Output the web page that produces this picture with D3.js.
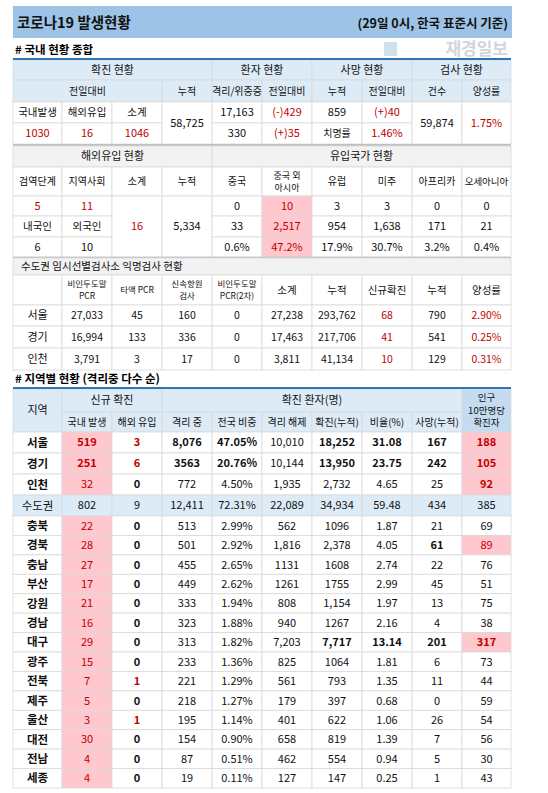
<!DOCTYPE html>
<html><head><meta charset="utf-8">
<script src="https://cdn.jsdelivr.net/npm/d3@7"></script>
<style>body{margin:0;background:#fff}svg{display:block}</style>
</head><body>
<script>
// ---- data ----
const title = "코로나19 발생현황";
const subtitle = "(29일 0시, 한국 표준시 기준)";
const sec1 = "# 국내 현황 종합";
const sec2 = "# 지역별 현황 (격리중 다수 순)";
const t1Groups = ["확진 현황","환자 현황","사망 현황","검사 현황"];
const t1Sub = ["전일대비","누적","격리/위중증","전일대비","누적","전일대비","건수","양성률"];
const t1Labels = ["국내발생","해외유입","소계"];
const t1New = ["1030","16","1046"];
const t1Cum = "58,725";
const t1Patients = ["17,163","(-)429","330","(+)35"];
const t1Deaths = ["859","(+)40","치명률","1.46%"];
const t1Tests = ["59,874","1.75%"];

const t2Groups = ["해외유입 현황","유입국가 현황"];
const t2Head = ["검역단계","지역사회","소계","누적","중국","중국 외\n아시아","유럽","미주","아프리카","오세아니아"];
const t2Stage = ["5","11"];
const t2Nation = ["내국인","외국인"];
const t2NationVals = ["6","10"];
const t2Sub = "16", t2Cum = "5,334";
const t2Today = ["0","10","3","3","0","0"];
const t2Total = ["33","2,517","954","1,638","171","21"];
const t2Pct = ["0.6%","47.2%","17.9%","30.7%","3.2%","0.4%"];

const t3Title = "수도권 임시선별검사소 익명검사 현황";
const t3Head = ["","비인두도말\nPCR","타액 PCR","신속항원\n검사","비인두도말\nPCR(2차)","소계","누적","신규확진","누적","양성률"];
const t3Rows = [
  ["서울","27,033","45","160","0","27,238","293,762","68","790","2.90%"],
  ["경기","16,994","133","336","0","17,463","217,706","41","541","0.25%"],
  ["인천","3,791","3","17","0","3,811","41,134","10","129","0.31%"]];

const regions = ["서울","경기","인천","수도권","충북","경북","충남","부산","강원","경남","대구","광주","전북","제주","울산","대전","전남","세종"];
const newLocal = [519,251,32,802,22,28,27,17,21,16,29,15,7,5,3,30,4,4];
const newImport = [3,6,0,9,0,0,0,0,0,0,0,0,1,0,1,0,0,0];
const isolating = ["8,076","3563","772","12,411","513","501","455","449","333","323","313","233","221","218","195","154","87","19"];
const share = ["47.05%","20.76%","4.50%","72.31%","2.99%","2.92%","2.65%","2.62%","1.94%","1.88%","1.82%","1.36%","1.29%","1.27%","1.14%","0.90%","0.51%","0.11%"];
const released = ["10,010","10,144","1,935","22,089","562","1,816","1131","1261","808","940","7,203","825","561","179","401","658","462","127"];
const cumul = ["18,252","13,950","2,732","34,934","1096","2,378","1608","1755","1,154","1267","7,717","1064","793","397","622","819","554","147"];
const ratio = ["31.08","23.75","4.65","59.48","1.87","4.05","2.74","2.99","1.97","2.16","13.14","1.81","1.35","0.68","1.06","1.39","0.94","0.25"];
const deaths = [167,242,25,434,21,61,22,45,13,4,201,6,11,0,26,7,5,1];
const per100k = [188,105,92,385,69,89,76,51,75,38,317,73,44,59,54,56,30,43];
const t4Head2 = ["국내 발생","해외 유입","격리 중","전국 비중","격리 해제","확진(누적)","비율(%)","사망(누적)"];

// ---- styling ----
const W=548,H=793, FONT="'Noto Sans CJK KR','Noto Sans',sans-serif";
const RED="#c00000", PINK="#ffc7ce", LB="#ddebf7", LB2="#c5dcf0", GREY="#f2f2f2", LINE="#d9d9d9", BLUE="#2e75b6";
const svg=d3.select("body").append("svg").attr("width",W).attr("height",H).style("font-family",FONT);
const xs=[13,62,112,162,212,262,312,362,412,462,511];
const X=d3.scaleOrdinal().domain(d3.range(11)).range(xs);

function cell(c0,cs,y0,y1,txt,o={}){
  const x0=X(c0),x1=X(c0+cs);
  svg.append("rect").attr("x",x0).attr("y",y0).attr("width",x1-x0).attr("height",y1-y0)
    .attr("fill",o.fill||"#fff").attr("stroke",LINE).attr("stroke-width",0.8);
  if(txt===undefined||txt==="")return;
  const lines=String(txt).split("\n"), fs=o.size||11, lh=o.lh||fs*1.3;
  const cy=(y0+y1)/2-(lines.length-1)*lh/2;
  lines.forEach((l,i)=>svg.append("text").attr("x",o.left?x0+8:(x0+x1)/2).attr("y",cy+i*lh)
    .attr("dy","0.36em").attr("text-anchor",o.left?"start":"middle")
    .attr("font-size",fs).attr("font-weight",o.bold?"bold":"normal")
    .attr("fill",o.color||"#111").text(l));
}

// title bar
svg.append("rect").attr("x",13).attr("y",6).attr("width",499).attr("height",32).attr("fill","#9dc3e6");
svg.append("text").attr("x",17).attr("y",23).attr("dy","0.36em").attr("font-size",14.5).attr("font-weight","bold").attr("fill","#111").text(title);
svg.append("text").attr("x",508).attr("y",23).attr("dy","0.36em").attr("text-anchor","end").attr("font-size",12.5).attr("font-weight","bold").attr("fill","#111").text(subtitle);
svg.append("text").attr("x",15).attr("y",50).attr("dy","0.36em").attr("font-size",11.5).attr("font-weight","bold").text(sec1);
svg.append("rect").attr("x",384).attr("y",42).attr("width",13).attr("height",14).attr("fill","#c5d8e8").attr("opacity",0.8);
svg.append("text").attr("x",508).attr("y",49).attr("dy","0.36em").attr("text-anchor","end").attr("font-size",17).attr("font-weight","bold").attr("fill","#c8ccd2").attr("opacity",0.8).text("재경일보");

// ---- table 1 ----
let y=[60,80,102,123,144];
[[0,4],[4,2],[6,2],[8,2]].forEach((s,i)=>cell(s[0],s[1],y[0],y[1],t1Groups[i],{fill:LB}));
[[0,3],[3,1],[4,1],[5,1],[6,1],[7,1],[8,1],[9,1]].forEach((s,i)=>cell(s[0],s[1],y[1],y[2],t1Sub[i],{fill:LB,size:10}));
t1Labels.forEach((t,i)=>cell(i,1,y[2],y[3],t,{size:10.5}));
t1New.forEach((t,i)=>cell(i,1,y[3],y[4],t,{color:RED}));
cell(3,1,y[2],y[4],t1Cum);
cell(4,1,y[2],y[3],t1Patients[0]); cell(5,1,y[2],y[3],t1Patients[1],{color:RED});
cell(4,1,y[3],y[4],t1Patients[2]); cell(5,1,y[3],y[4],t1Patients[3],{color:RED});
cell(6,1,y[2],y[3],t1Deaths[0]); cell(7,1,y[2],y[3],t1Deaths[1],{color:RED});
cell(6,1,y[3],y[4],t1Deaths[2],{size:10}); cell(7,1,y[3],y[4],t1Deaths[3],{color:RED});
cell(8,1,y[2],y[4],t1Tests[0]); cell(9,1,y[2],y[4],t1Tests[1],{color:RED});
svg.append("line").attr("x1",13).attr("x2",511).attr("y1",59).attr("y2",59).attr("stroke",BLUE).attr("stroke-width",2);
svg.append("line").attr("x1",13).attr("x2",511).attr("y1",145).attr("y2",145).attr("stroke","#bfbfbf").attr("stroke-width",2);

// ---- table 2 ----
y=[146,167,196,216,237,257];
cell(0,4,y[0],y[1],t2Groups[0],{fill:GREY}); cell(4,6,y[0],y[1],t2Groups[1],{fill:GREY});
t2Head.forEach((t,i)=>cell(i,1,y[1],y[2],t,{size:t.includes("\n")?9:(t.length>4?9.5:10),lh:12}));
t2Stage.forEach((t,i)=>cell(i,1,y[2],y[3],t,{color:RED}));
t2Nation.forEach((t,i)=>cell(i,1,y[3],y[4],t,{size:10.5}));
t2NationVals.forEach((t,i)=>cell(i,1,y[4],y[5],t));
cell(2,1,y[2],y[5],t2Sub,{color:RED}); cell(3,1,y[2],y[5],t2Cum);
[t2Today,t2Total,t2Pct].forEach((arr,r)=>arr.forEach((t,i)=>cell(4+i,1,y[2+r],y[3+r],t,i===1?{fill:PINK,color:RED}:{})));
svg.append("line").attr("x1",13).attr("x2",511).attr("y1",257.5).attr("y2",257.5).attr("stroke","#bfbfbf").attr("stroke-width",1.5);

// ---- table 3 ----
y=[258,275,305,326,348,370];
cell(0,10,y[0],y[1],t3Title,{fill:GREY,left:true,size:10.5});
t3Head.forEach((t,i)=>cell(i,1,y[1],y[2],t,{size:t.includes("\n")||t.includes("PCR")?8.5:10.5,lh:12}));
t3Rows.forEach((row,r)=>row.forEach((t,i)=>cell(i,1,y[2+r],y[3+r],t,{color:(i===7||i===9)?RED:"#111",size:i===0?11:10.5})));

// ---- table 4 ----
svg.append("text").attr("x",15).attr("y",379).attr("dy","0.36em").attr("font-size",11.5).attr("font-weight","bold").text(sec2);
const ry=[432,453,474,495,516];
const rowY=d3.scaleLinear().domain([4,18]).range([516,788]);
const rTop=i=>i<4?ry[i]:rowY(i), rBot=i=>i<4?ry[i+1]:rowY(i+1);
cell(0,1,389,432,"지역",{fill:LB});
cell(1,2,389,412,"신규 확진",{fill:LB});
cell(3,6,389,412,"확진 환자(명)",{fill:LB});
cell(9,1,389,432,"인구\n10만명당\n확진자",{fill:LB2,size:9.5,lh:12.5});
t4Head2.forEach((t,i)=>cell(1+i,1,412,432,t,{fill:LB,size:10}));
const hlLast=[0,1,2,5,10];
regions.forEach((reg,i)=>{
  const y0=rTop(i),y1=rBot(i), sum=i===3, f=sum?LB:"#fff";
  const big=(i<2), dg=i===10;
  cell(0,1,y0,y1,reg,{bold:!sum,fill:f,size:11.5});
  cell(1,1,y0,y1,newLocal[i],{fill:sum?LB:PINK,color:sum?"#111":RED,bold:i<2,size:11});
  cell(2,1,y0,y1,newImport[i],{fill:f,bold:!sum,color:(!sum&&newImport[i]>0)?RED:"#111"});
  cell(3,1,y0,y1,isolating[i],{fill:f,bold:big});
  cell(4,1,y0,y1,share[i],{fill:f,bold:big});
  cell(5,1,y0,y1,released[i],{fill:f});
  cell(6,1,y0,y1,cumul[i],{fill:f,bold:big||dg});
  cell(7,1,y0,y1,ratio[i],{fill:f,bold:big||dg});
  cell(8,1,y0,y1,deaths[i],{fill:f,bold:big||dg||i===5});
  const hl=hlLast.includes(i);
  cell(9,1,y0,y1,per100k[i],{fill:hl?PINK:f,color:hl?RED:"#111",bold:hl&&i!==5});
});
svg.append("line").attr("x1",13).attr("x2",511).attr("y1",388).attr("y2",388).attr("stroke",BLUE).attr("stroke-width",2);
</script>
</body></html>
